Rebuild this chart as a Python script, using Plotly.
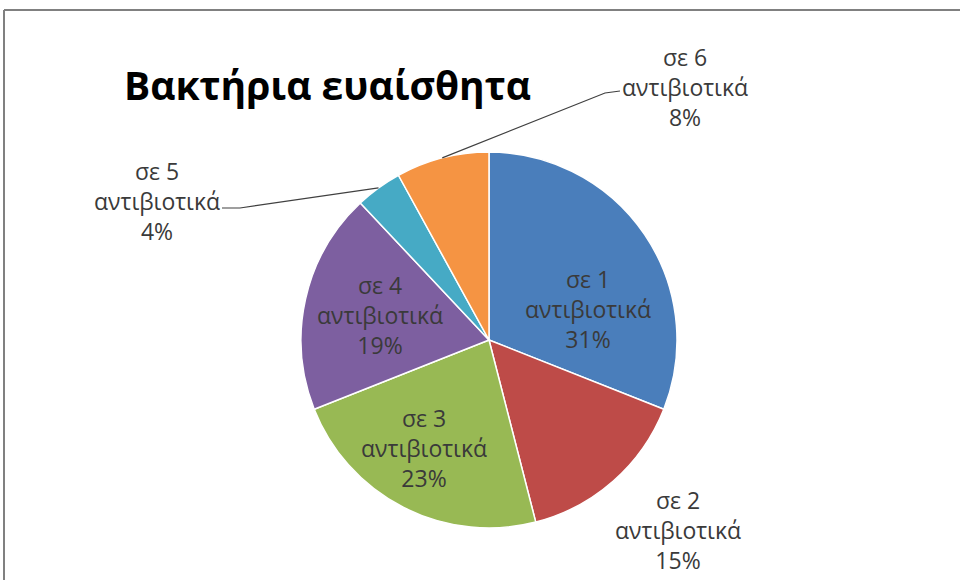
import math
import plotly.graph_objects as go

categories = ["σε 1", "σε 2", "σε 3", "σε 4", "σε 5", "σε 6"]
unit = "αντιβιοτικά"
values = [31, 15, 23, 19, 4, 8]
colors = ["#4A7EBB", "#BE4B48", "#98B954", "#7D5FA0", "#46AAC5", "#F59443"]
title_text = "Βακτήρια ευαίσθητα"

W, H = 960, 580
CX, CY, R = 489, 340, 188  # pie centre / radius in pixels

def px(x):
    return x / W

def py(y):
    return 1 - y / H

fig = go.Figure(go.Pie(
    labels=categories,
    values=values,
    sort=False,
    direction="clockwise",
    rotation=0,
    marker=dict(colors=colors, line=dict(color="white", width=1.5)),
    textinfo="none",
    hoverinfo="label+value+percent",
    domain=dict(x=[px(CX - R), px(CX + R)], y=[py(CY + R), py(CY - R)]),
    showlegend=False,
))

# label layout: centre of middle line (px), optional leader elbow / end (px)
label_layout = [
    dict(pos=(588, 309)),
    dict(pos=(678, 530)),
    dict(pos=(424, 448)),
    dict(pos=(380, 315)),
    dict(pos=(157, 201), elbow=(240, 208), end=(222, 208)),
    dict(pos=(685, 87), elbow=(605, 93), end=(620, 91)),
]

total = sum(values)
cum = 0
annotations = []
shapes = []
for i, v in enumerate(values):
    mid = (cum + v / 2) / total * 2 * math.pi
    cum += v
    o = label_layout[i]
    pct = round(v / total * 100)
    annotations.append(dict(
        x=px(o["pos"][0]), y=py(o["pos"][1]), xref="paper", yref="paper",
        text=f"{categories[i]}<br>{unit}<br>{pct}%", showarrow=False,
        font=dict(family="Open Sans", size=23, color="#3a3a3a"),
        align="center", xanchor="center", yanchor="middle",
    ))
    if "end" in o:
        ex = CX + R * math.sin(mid)
        ey = CY - R * math.cos(mid)
        path = (f"M {px(ex)} {py(ey)} L {px(o['elbow'][0])} {py(o['elbow'][1])} "
                f"L {px(o['end'][0])} {py(o['end'][1])}")
        shapes.append(dict(type="path", path=path, xref="paper", yref="paper",
                           line=dict(color="#404040", width=1.2)))

# frame lines (top and left)
shapes.append(dict(type="line", xref="paper", yref="paper", x0=px(4), x1=1.0,
                   y0=py(10), y1=py(10), line=dict(color="#808080", width=2)))
shapes.append(dict(type="line", xref="paper", yref="paper", x0=px(4), x1=px(4),
                   y0=py(10), y1=0, line=dict(color="#808080", width=2)))

annotations.append(dict(
    x=px(327), y=py(84), xref="paper", yref="paper", text=f"<b>{title_text}</b>",
    showarrow=False, font=dict(family="Open Sans", size=39, color="#000000"),
    xanchor="center", yanchor="middle",
))

fig.update_layout(
    width=W, height=H, autosize=False,
    margin=dict(l=0, r=0, t=0, b=0),
    paper_bgcolor="white", plot_bgcolor="white",
    annotations=annotations, shapes=shapes,
)

fig.write_html("out.html", config={"displayModeBar": False},
               post_script="document.body.style.margin='0';")
